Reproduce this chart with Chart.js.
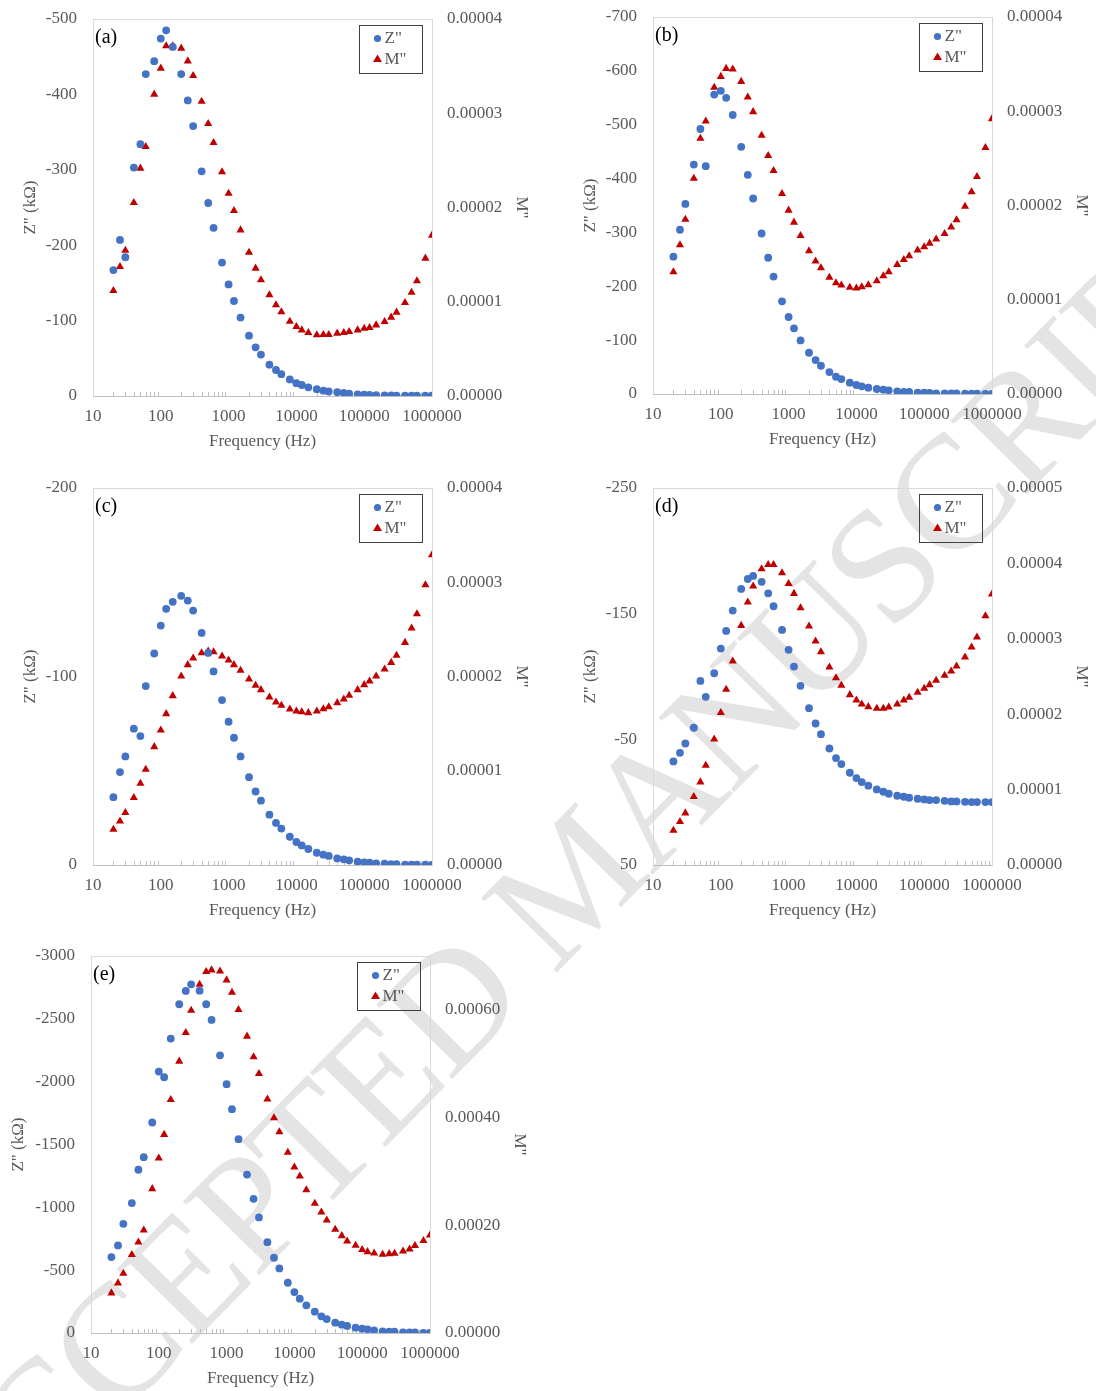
<!DOCTYPE html>
<html>
<head>
<meta charset="utf-8">
<script src="https://cdn.jsdelivr.net/npm/chart.js@4.4.1/dist/chart.umd.min.js"></script>
<style>
  html, body { margin: 0; padding: 0; background: #fff; }
  body { width: 1096px; height: 1391px; overflow: hidden; position: relative; }
  .wm {
    position: absolute; left: 572px; top: 880px;
    transform: translate(-50%, -50%) rotate(-45.5deg);
    font-family: "Liberation Serif", serif; font-size: 162px; letter-spacing: -4px;
    color: #e4e4e4; white-space: nowrap; line-height: 1;
  }
  canvas { position: absolute; }
</style>
</head>
<body>
<div class="wm">ACCEPTED MANUSCRIPT</div>
<canvas id="pa" width="548" height="465" style="left:0px;top:0px"></canvas>
<canvas id="pb" width="548" height="465" style="left:560px;top:-2px"></canvas>
<canvas id="pc" width="548" height="465" style="left:0px;top:469px"></canvas>
<canvas id="pd" width="548" height="465" style="left:560px;top:469px"></canvas>
<canvas id="pe" width="548" height="465" style="left:-2px;top:937px"></canvas>
<script>
// frequencies shared by all five samples (Hz)
const freq = [20, 25, 30, 40, 50, 60, 80, 100, 120, 150, 200, 250, 300, 400, 500, 600, 800,
  1000, 1200, 1500, 2000, 2500, 3000, 4000, 5000, 6000, 8000, 10000, 12000, 15000, 20000,
  25000, 30000, 40000, 50000, 60000, 80000, 100000, 120000, 150000, 200000, 250000, 300000,
  400000, 500000, 600000, 800000, 1000000];

// (a)
const zA = [-167, -207, -184, -303, -334, -427, -444, -474, -485, -463, -427, -392, -358, -298,
  -256, -223, -177, -148, -126, -104, -80, -64.5, -55, -41.5, -34.5, -29, -22, -17, -14.6, -11.5,
  -9, -7, -6, -5, -4, -3, -2.2, -1.8, -1.3, -1, -0.8, -0.7, -0.6, -0.5, -0.4, -0.4, -0.3, -0.3];
const mA = [1.118e-5, 1.372e-5, 1.545e-5, 2.051e-5, 2.416e-5, 2.645e-5, 3.201e-5, 3.477e-5,
  3.714e-5, 3.714e-5, 3.689e-5, 3.554e-5, 3.399e-5, 3.126e-5, 2.889e-5, 2.688e-5, 2.377e-5,
  2.150e-5, 1.966e-5, 1.761e-5, 1.524e-5, 1.355e-5, 1.231e-5, 1.072e-5, 0.966e-5, 0.891e-5,
  0.792e-5, 0.736e-5, 0.700e-5, 0.672e-5, 0.647e-5, 0.651e-5, 0.651e-5, 0.665e-5, 0.672e-5,
  0.683e-5, 0.700e-5, 0.718e-5, 0.725e-5, 0.753e-5, 0.789e-5, 0.835e-5, 0.888e-5, 0.990e-5,
  1.100e-5, 1.220e-5, 1.461e-5, 1.705e-5];

// (b)
const zB = [-255, -305, -353, -426, -492, -423, -556, -563, -550, -518, -459, -407, -363, -298,
  -253, -218, -172, -143, -122, -99.5, -76.6, -63, -52.5, -40.8, -32, -27.8, -21, -16.7, -14.2,
  -11.7, -9.3, -8, -6.8, -5, -3.7, -3.7, -2.5, -2.5, -1.9, -1.2, -1.2, -1.2, -1.2, -0.6, -0.6,
  -0.6, -0.3, -0.2];
const mB = [1.296e-5, 1.582e-5, 1.853e-5, 2.288e-5, 2.711e-5, 2.895e-5, 3.252e-5, 3.368e-5,
  3.453e-5, 3.446e-5, 3.315e-5, 3.149e-5, 2.994e-5, 2.743e-5, 2.528e-5, 2.369e-5, 2.125e-5,
  1.949e-5, 1.822e-5, 1.680e-5, 1.518e-5, 1.409e-5, 1.338e-5, 1.236e-5, 1.179e-5, 1.154e-5,
  1.130e-5, 1.123e-5, 1.137e-5, 1.158e-5, 1.200e-5, 1.253e-5, 1.296e-5, 1.373e-5, 1.426e-5,
  1.465e-5, 1.525e-5, 1.560e-5, 1.599e-5, 1.642e-5, 1.702e-5, 1.769e-5, 1.846e-5, 1.991e-5,
  2.143e-5, 2.305e-5, 2.613e-5, 2.920e-5];

// (c)
const zC = [-36, -49.3, -57.6, -72.3, -68.4, -94.9, -112.2, -127, -135.9, -139.6, -142.8, -140.3,
  -135, -123.1, -112.5, -102.7, -87.5, -76, -67.5, -57.6, -46.6, -39, -34.1, -26.7, -22.3, -19.3,
  -15, -12.2, -10.4, -8.5, -6.5, -5.5, -4.8, -3.5, -3, -2.5, -1.8, -1.4, -1.2, -0.9, -0.7, -0.5,
  -0.5, -0.2, -0.2, -0.2, -0.2, 0];
const mC = [0.378e-5, 0.466e-5, 0.555e-5, 0.714e-5, 0.866e-5, 1.014e-5, 1.254e-5, 1.431e-5,
  1.604e-5, 1.795e-5, 2.004e-5, 2.124e-5, 2.194e-5, 2.251e-5, 2.269e-5, 2.261e-5, 2.216e-5,
  2.173e-5, 2.124e-5, 2.064e-5, 1.972e-5, 1.905e-5, 1.859e-5, 1.781e-5, 1.728e-5, 1.693e-5,
  1.654e-5, 1.633e-5, 1.625e-5, 1.615e-5, 1.633e-5, 1.657e-5, 1.678e-5, 1.721e-5, 1.760e-5,
  1.799e-5, 1.859e-5, 1.912e-5, 1.951e-5, 2.004e-5, 2.078e-5, 2.148e-5, 2.223e-5, 2.360e-5,
  2.512e-5, 2.664e-5, 2.972e-5, 3.290e-5];

// (d)
const zD = [-32.4, -39.3, -46.7, -59.2, -96.5, -83.8, -102.6, -122.2, -136.3, -152.5, -169.7,
  -177.6, -180, -175.3, -166.2, -155.9, -137.1, -121.2, -107.9, -92.6, -74.8, -62.6, -54.1, -42.7,
  -35.1, -30.3, -23.4, -19.2, -16, -13.1, -10.1, -8.3, -6.7, -5.1, -4.3, -3.5, -2.7, -2.2, -1.7,
  -1.7, -1.1, -0.6, -0.6, -0.3, -0.1, -0.1, -0.1, -0.1];
const mD = [0.459e-5, 0.574e-5, 0.689e-5, 0.905e-5, 1.100e-5, 1.321e-5, 1.670e-5, 2.019e-5,
  2.328e-5, 2.703e-5, 3.176e-5, 3.485e-5, 3.697e-5, 3.927e-5, 3.984e-5, 3.984e-5, 3.874e-5,
  3.732e-5, 3.600e-5, 3.410e-5, 3.167e-5, 2.968e-5, 2.827e-5, 2.624e-5, 2.482e-5, 2.381e-5,
  2.257e-5, 2.186e-5, 2.133e-5, 2.098e-5, 2.076e-5, 2.076e-5, 2.094e-5, 2.133e-5, 2.186e-5,
  2.222e-5, 2.288e-5, 2.341e-5, 2.390e-5, 2.447e-5, 2.513e-5, 2.571e-5, 2.637e-5, 2.756e-5,
  2.889e-5, 3.021e-5, 3.304e-5, 3.591e-5];

// (e)
const zE = [-604, -697, -869, -1034, -1299, -1399, -1675, -2080, -2035, -2343, -2616, -2722,
  -2775, -2724, -2616, -2491, -2210, -1980, -1781, -1542, -1261, -1068, -920, -723, -599, -514,
  -400, -326, -273, -220, -170, -133, -111, -82, -66, -56, -42, -34, -29, -21, -13, -11, -11, -5,
  -5, -5, 0, 0];
const mE = [0.742e-4, 0.927e-4, 1.107e-4, 1.453e-4, 1.688e-4, 1.910e-4, 2.677e-4, 3.246e-4,
  3.685e-4, 4.334e-4, 5.045e-4, 5.576e-4, 5.991e-4, 6.473e-4, 6.708e-4, 6.739e-4, 6.720e-4,
  6.553e-4, 6.325e-4, 6.003e-4, 5.509e-4, 5.125e-4, 4.816e-4, 4.340e-4, 3.994e-4, 3.734e-4,
  3.351e-4, 3.079e-4, 2.912e-4, 2.658e-4, 2.405e-4, 2.244e-4, 2.096e-4, 1.923e-4, 1.805e-4,
  1.706e-4, 1.626e-4, 1.546e-4, 1.508e-4, 1.484e-4, 1.459e-4, 1.471e-4, 1.478e-4, 1.521e-4,
  1.558e-4, 1.620e-4, 1.713e-4, 1.818e-4];

// tick labels
const freqTicks = [10, 100, 1000, 10000, 100000, 1000000];
const zTicksA = [-500, -400, -300, -200, -100, 0];
const zTicksB = [-700, -600, -500, -400, -300, -200, -100, 0];
const zTicksC = [-200, -100, 0];
const zTicksD = [-250, -150, -50, 50];
const zTicksE = [-3000, -2500, -2000, -1500, -1000, -500, 0];
const mTicks4 = [0, 0.00001, 0.00002, 0.00003, 0.00004];
const mTicks5 = [0, 0.00001, 0.00002, 0.00003, 0.00004, 0.00005];
const mTicksE = [0, 0.0002, 0.0004, 0.0006];

const BLUE = '#4472C4';
const RED = '#C00000';
const GREY = '#595959';
const FONT = '"Liberation Serif", "Times New Roman", serif';

Chart.defaults.font.family = FONT;
Chart.defaults.font.size = 17;
Chart.defaults.color = GREY;

// plot frame, inward minor ticks, panel letter and boxed legend
const panelDeco = {
  id: 'panelDeco',
  beforeDatasetsDraw(chart) {
    const { ctx, chartArea: a, scales } = chart;
    ctx.save();
    ctx.strokeStyle = '#d9d9d9';
    ctx.lineWidth = 1;
    ctx.strokeRect(Math.round(a.left) + 0.5, Math.round(a.top) + 0.5,
      Math.round(a.width), Math.round(a.height));
    ctx.strokeStyle = '#bfbfbf';
    ctx.beginPath();
    ctx.moveTo(a.left, Math.round(a.bottom) + 0.5);
    ctx.lineTo(a.right, Math.round(a.bottom) + 0.5);
    for (let d = 10; d < 1000000; d *= 10) {
      for (let k = 2; k < 10; k++) {
        const x = Math.round(scales.x.getPixelForValue(d * k)) + 0.5;
        ctx.moveTo(x, a.bottom);
        ctx.lineTo(x, a.bottom - 4);
      }
    }
    ctx.stroke();
    ctx.restore();
  },
  afterDatasetsDraw(chart, args, opts) {
    const { ctx, chartArea: a } = chart;
    ctx.save();
    ctx.font = '20px ' + FONT;
    ctx.fillStyle = '#000';
    ctx.textBaseline = 'middle';
    ctx.textAlign = 'left';
    ctx.fillText(opts.label, a.left + 2, a.top + 19);

    const w = 63, h = 48;
    const bx = Math.round(a.right - 10 - w) + 0.5;
    const by = Math.round(a.top + 6) + 0.5;
    ctx.strokeStyle = '#404040';
    ctx.lineWidth = 1;
    ctx.strokeRect(bx, by, w, h);

    ctx.fillStyle = BLUE;
    ctx.beginPath();
    ctx.arc(bx + 18, by + 13, 3.6, 0, Math.PI * 2);
    ctx.fill();
    ctx.fillStyle = RED;
    ctx.beginPath();
    ctx.moveTo(bx + 18, by + 29);
    ctx.lineTo(bx + 22.5, by + 36.5);
    ctx.lineTo(bx + 13.5, by + 36.5);
    ctx.closePath();
    ctx.fill();

    ctx.font = '17px ' + FONT;
    ctx.fillStyle = GREY;
    ctx.fillText('Z"', bx + 25, by + 13);
    ctx.fillText('M"', bx + 25, by + 34);
    ctx.restore();
  }
};

function fixTicks(list) {
  return scale => { scale.ticks = list.map(v => ({ value: v })); };
}

// keep the plot box where the figure has it: fixed axis sizes, no label overhang
function fitVertical(width) {
  return s => { s.width = width; s.paddingTop = 0; s.paddingBottom = 0; };
}

function makePanel(id, label, zVals, mVals, zTicks, mTicks, mMax, zTitlePad) {
  const zPts = freq.map((f, i) => ({ x: f, y: zVals[i] }));
  const mPts = freq.map((f, i) => ({ x: f, y: mVals[i] }));
  return new Chart(document.getElementById(id), {
    type: 'scatter',
    plugins: [panelDeco],
    data: {
      datasets: [
        { label: 'Z"', data: zPts, yAxisID: 'y', pointStyle: 'circle', pointRadius: 3.9,
          backgroundColor: BLUE, borderWidth: 0, pointHoverRadius: 3.9 },
        { label: 'M"', data: mPts, yAxisID: 'y2', pointStyle: 'triangle', pointRadius: 4.7,
          backgroundColor: RED, borderWidth: 0, pointHoverRadius: 4.7 }
      ]
    },
    options: {
      responsive: false,
      devicePixelRatio: 1,
      animation: false,
      layout: { padding: { top: 19, left: 0, right: 0, bottom: 0 } },
      plugins: {
        legend: { display: false },
        tooltip: { enabled: false },
        panelDeco: { label: label }
      },
      scales: {
        x: {
          type: 'logarithmic',
          min: 10,
          max: 1000000,
          afterBuildTicks: fixTicks(freqTicks),
          afterFit: s => { s.height = 69; s.paddingLeft = 0; s.paddingRight = 0; },
          grid: { display: false, drawTicks: false },
          border: { display: false },
          ticks: { padding: 10, maxRotation: 0, autoSkip: false, callback: v => String(v) },
          title: { display: true, text: 'Frequency (Hz)', padding: { top: 0, bottom: 13 } }
        },
        y: {
          position: 'left',
          reverse: true,
          min: zTicks[0],
          max: zTicks[zTicks.length - 1],
          afterBuildTicks: fixTicks(zTicks),
          afterFit: fitVertical(93),
          grid: { display: false, drawTicks: false },
          border: { display: false },
          ticks: { padding: 16, callback: v => String(v) },
          title: { display: true, text: 'Z" (kΩ)', padding: { top: zTitlePad, bottom: 0 } }
        },
        y2: {
          position: 'right',
          min: 0,
          max: mMax,
          afterBuildTicks: fixTicks(mTicks),
          afterFit: fitVertical(116),
          grid: { display: false, drawTicks: false },
          border: { display: false },
          ticks: { padding: 15, callback: v => v.toFixed(5) },
          title: { display: true, text: 'M"', padding: { top: 16, bottom: 0 } }
        }
      }
    }
  });
}

makePanel('pa', '(a)', zA, mA, zTicksA, mTicks4, 0.00004, 20);
makePanel('pb', '(b)', zB, mB, zTicksB, mTicks4, 0.00004, 20);
makePanel('pc', '(c)', zC, mC, zTicksC, mTicks4, 0.00004, 20);
makePanel('pd', '(d)', zD, mD, zTicksD, mTicks5, 0.00005, 20);
makePanel('pe', '(e)', zE, mE, zTicksE, mTicksE, 0.0007, 10);
</script>
</body>
</html>
